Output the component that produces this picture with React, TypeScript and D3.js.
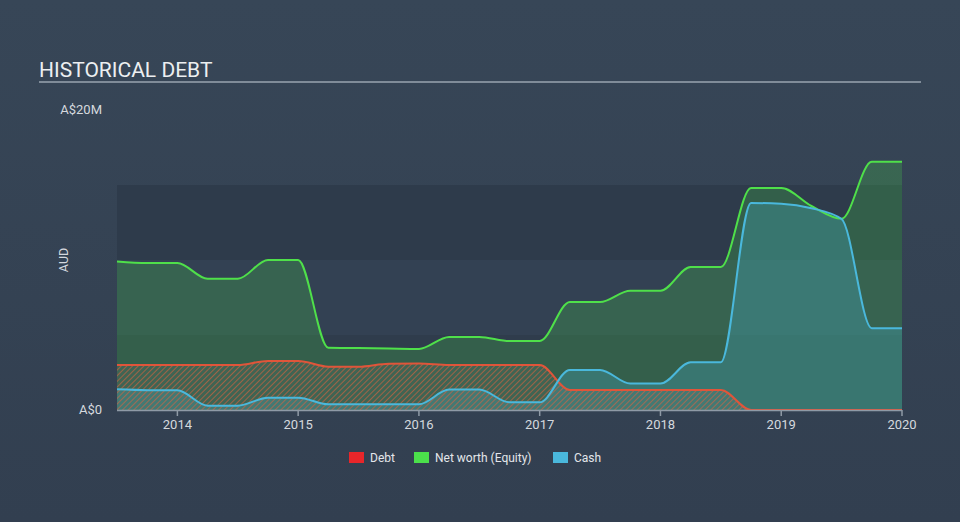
import React from "react";
import * as d3 from "d3";

const dates: number[] = [
  2013.5, 2013.75, 2014.0, 2014.25, 2014.5, 2014.75, 2015.0, 2015.25, 2015.5, 2015.75,
  2016.0, 2016.25, 2016.5, 2016.75, 2017.0, 2017.25, 2017.5, 2017.75, 2018.0, 2018.25,
  2018.5, 2018.75, 2019.0, 2019.25, 2019.5, 2019.75, 2020.0,
];
const equity: number[] = [
  9.9, 9.8, 9.8, 8.75, 8.75, 10.0, 10.0, 4.15, 4.13, 4.1,
  4.07, 4.87, 4.87, 4.6, 4.6, 7.2, 7.2, 7.95, 7.95, 9.53,
  9.53, 14.8, 14.8, 13.6, 12.75, 16.55, 16.55,
];
const cash: number[] = [
  1.38, 1.32, 1.31, 0.29, 0.29, 0.82, 0.82, 0.38, 0.38, 0.38,
  0.38, 1.36, 1.36, 0.51, 0.51, 2.67, 2.67, 1.76, 1.76, 3.18,
  3.18, 13.8, 13.75, 13.45, 12.73, 5.45, 5.45,
];
const debt: number[] = [
  3.0, 3.0, 3.0, 3.0, 3.0, 3.27, 3.27, 2.89, 2.89, 3.09,
  3.1, 3.0, 3.0, 3.0, 3.0, 1.33, 1.33, 1.33, 1.33, 1.33,
  1.33, 0, 0, 0, 0, 0, 0,
];
const xTicks: number[] = [2014, 2015, 2016, 2017, 2018, 2019, 2020];
const yLabels: { v: number; label: string }[] = [
  { v: 0, label: "A$0" },
  { v: 20, label: "A$20M" },
];
const legendItems = [
  { name: "Debt", color: "#e8262a" },
  { name: "Net worth (Equity)", color: "#4be04b" },
  { name: "Cash", color: "#4ab8dc" },
];

const W = 960;
const H = 522;
const left = 117;
const right = 902;
const FONT = "Roboto, 'Open Sans', sans-serif";

export default function App() {
  const x = d3.scaleLinear().domain([2013.5, 2020.0]).range([left, right]);
  const y = d3.scaleLinear().domain([0, 20]).range([410, 110]);

  const mk = (vals: number[]) => dates.map((d, i) => [d, vals[i]] as [number, number]);
  const area = d3
    .area<[number, number]>()
    .x((d) => x(d[0]))
    .y0(y(0))
    .y1((d) => y(d[1]))
    .curve(d3.curveMonotoneX);
  const line = d3
    .line<[number, number]>()
    .x((d) => x(d[0]))
    .y((d) => y(d[1]))
    .curve(d3.curveMonotoneX);

  const bands = [
    { y0: 0, y1: 5, fill: "#2f3c4c" },
    { y0: 5, y1: 10, fill: "#334153" },
    { y0: 10, y1: 15, fill: "#2e3b4b" },
  ];

  return (
    <svg
      width={W}
      height={H}
      style={{ position: "absolute", left: 0, top: 0, display: "block" }}
      fontFamily={FONT}
    >
      <defs>
        <pattern id="hatch" width="4" height="4" patternUnits="userSpaceOnUse" patternTransform="rotate(45)">
          <rect width="4" height="4" fill="rgba(140,140,140,0.12)" />
          <line x1="0" y1="0" x2="0" y2="4" stroke="#e0603e" strokeWidth="2" strokeOpacity="0.6" />
        </pattern>
        <linearGradient id="bg" x1="0" y1="0" x2="0" y2="1">
          <stop offset="0" stopColor="#374657" />
          <stop offset="1" stopColor="#323f50" />
        </linearGradient>
      </defs>
      <rect width={W} height={H} fill="url(#bg)" />

      {/* title */}
      <text x={39} y={77} fill="#eceff1" fontSize={21}>
        HISTORICAL DEBT
      </text>
      <line x1={39} x2={921} y1={82} y2={82} stroke="#9aa5b1" strokeWidth={1.5} />

      {/* bands */}
      {bands.map((b, i) => (
        <rect key={i} x={left} width={right - left} y={y(b.y1)} height={y(b.y0) - y(b.y1)} fill={b.fill} />
      ))}

      {/* areas */}
      <path d={area(mk(equity)) || ""} fill="#4be04b" fillOpacity={0.22} />
      <path d={area(mk(cash)) || ""} fill="#4ab8dc" fillOpacity={0.26} />
      <path d={area(mk(debt)) || ""} fill="url(#hatch)" />

      {/* lines */}
      <path d={line(mk(debt)) || ""} fill="none" stroke="#e0553a" strokeWidth={2} />
      <path d={line(mk(equity)) || ""} fill="none" stroke="#4fe04a" strokeWidth={2} />
      <path d={line(mk(cash)) || ""} fill="none" stroke="#4ab8dc" strokeWidth={2} />

      {/* x axis */}
      <line x1={left} x2={right} y1={410.5} y2={410.5} stroke="#8f9aa6" strokeWidth={1.5} />
      {xTicks.map((t) => (
        <g key={t}>
          <line x1={x(t)} x2={x(t)} y1={410} y2={416} stroke="#8f9aa6" strokeWidth={1.5} />
          <text x={x(t)} y={429} fill="#d5d9de" fontSize={13} textAnchor="middle">
            {t}
          </text>
        </g>
      ))}

      {/* y labels */}
      {yLabels.map((l) => (
        <text key={l.label} x={102} y={y(l.v) + 4} fill="#d5d9de" fontSize={13} textAnchor="end">
          {l.label}
        </text>
      ))}
      <text
        transform={`translate(68,260) rotate(-90)`}
        fill="#d5d9de"
        fontSize={12.5}
        textAnchor="middle"
      >
        AUD
      </text>

      {/* legend */}
      {(() => {
        const xs = [349, 414, 553];
        return legendItems.map((it, i) => (
          <g key={it.name}>
            <rect x={xs[i]} y={452} width={15} height={11} fill={it.color} />
            <text x={xs[i] + 21} y={462} fill="#e3e6ea" fontSize={12}>
              {it.name}
            </text>
          </g>
        ));
      })()}
    </svg>
  );
}
